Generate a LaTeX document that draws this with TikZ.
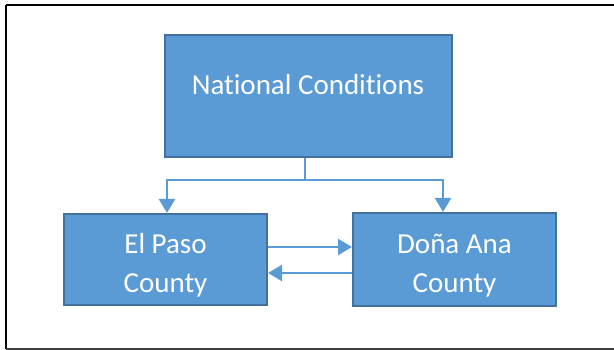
\documentclass[tikz,border=0pt]{standalone}
\usepackage{fontspec}
\newfontfamily\calib[Ligatures={NoCommon}]{Carlito}
\usetikzlibrary{arrows.meta}
\definecolor{boxfill}{HTML}{5B9BD5}
\definecolor{boxline}{HTML}{41719C}
\tikzset{
  region/.style={draw=boxline, line width=2pt, fill=boxfill, text=white, font=\calib\fontsize{29}{39}\selectfont, align=center, inner sep=0pt},
  link/.style={draw=boxfill, line width=2.5pt, -{Triangle[length=14pt, width=16pt]}}
}
\begin{document}
\begin{tikzpicture}[x=1pt, y=-1pt]
            \useasboundingbox (0, 0) rectangle (614, 350);
            \draw[black, line width=2pt] (6, 5) -- (620, 5);
            \draw[black, line width=2pt] (6, 5) -- (6, 349);
            \draw[black!75, line width=2pt] (6, 349) -- (620, 349);
            \node[region, minimum width=287pt, minimum height=122pt, text height=20pt, text depth=22pt] (nat) at (308, 96) {National Conditions};
            \node[region, minimum width=203pt, minimum height=91pt, text height=70pt, text depth=5pt] (ep) at (165.5, 259.5) {El Paso\\County};
            \node[region, minimum width=203pt, minimum height=93pt, text height=70pt, text depth=5pt] (da) at (454.5, 259.5) {Doña Ana\\County};
            \draw[link] ([xshift=-3pt]nat.south) -- ++(0, 22) -| ([xshift=1.5pt]ep.north);
            \draw[link] ([xshift=-3pt]nat.south) -- ++(0, 22) -| ([xshift=-11.5pt]da.north);
            \draw[link] ([yshift=12.5pt]ep.east) -- ([yshift=12.5pt]da.west);
            \draw[link] ([yshift=-13.5pt]da.west) -- ([yshift=-13.5pt]ep.east);
        \end{tikzpicture}
\end{document}
